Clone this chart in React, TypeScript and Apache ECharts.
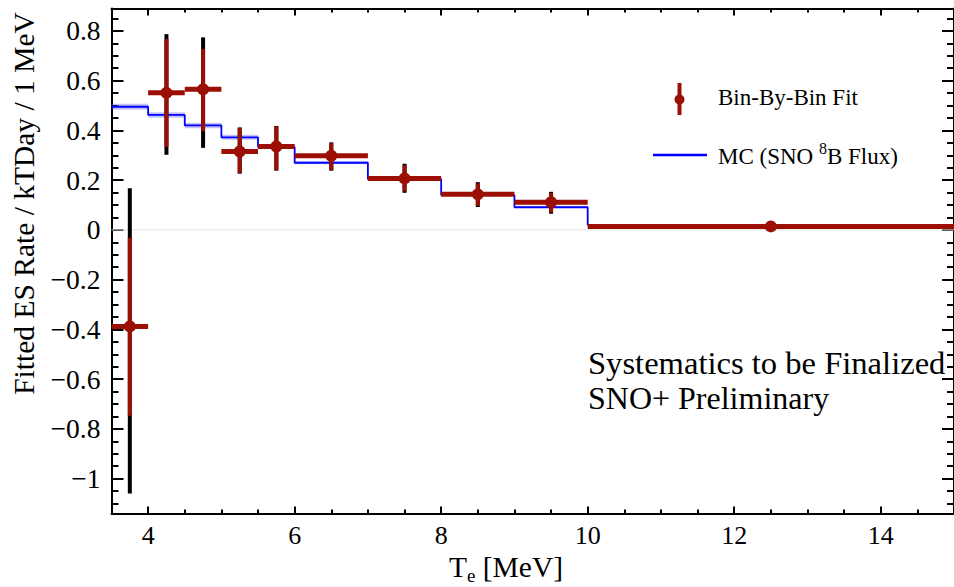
import React, { useEffect, useRef } from 'react';
import * as echarts from 'echarts';

const FONT = 'Liberation Serif';
const RED = '#9c0f05';
const BLUE = '#0000ff';

// Bin edges / centres (MeV)
const binLow = [3.5, 4, 4.5, 5, 5.5, 6, 7, 8, 9, 10];
const binHigh = [4, 4.5, 5, 5.5, 6, 7, 8, 9, 10, 15];
const binCenter = [3.75, 4.25, 4.75, 5.25, 5.75, 6.5, 7.5, 8.5, 9.5, 12.5];

// Bin-by-bin fit (rate / kTDay / 1 MeV)
const fitRate = [-0.388, 0.551, 0.565, 0.315, 0.335, 0.298, 0.207, 0.143, 0.111, 0.014];
const statLow = [-0.747, 0.334, 0.396, 0.229, 0.241, 0.241, 0.155, 0.097, 0.07, 0.008];
const statHigh = [-0.032, 0.767, 0.727, 0.409, 0.416, 0.349, 0.26, 0.187, 0.149, 0.02];
const totalLow = [-1.06, 0.302, 0.33, 0.226, 0.238, 0.238, 0.149, 0.092, 0.065, 0.007];
const totalHigh = [0.167, 0.787, 0.774, 0.412, 0.418, 0.352, 0.266, 0.192, 0.153, 0.021];

// MC (SNO 8B flux) histogram and its band
const mcRate = [0.495, 0.462, 0.42, 0.372, 0.333, 0.27, 0.204, 0.14, 0.091, 0.02];
const mcBand = [0.012, 0.011, 0.011, 0.01, 0.008, 0.006, 0.005, 0.004, 0.003, 0.002];

// Axis ticks
const xMajorTicks = [4, 6, 8, 10, 12, 14];
const yMajorTicks = [-1, -0.8, -0.6, -0.4, -0.2, 0, 0.2, 0.4, 0.6, 0.8];
const X_MIN = 3.5;
const X_MAX = 15;
const Y_MIN = -1.14;
const Y_MAX = 0.89;

function minorTicks(from: number, to: number, step: number, majors: number[]) {
  const out: number[] = [];
  const n = Math.round((to - from) / step);
  for (let i = 0; i <= n; i++) {
    const v = Math.round((from + i * step) * 1000) / 1000;
    if (!majors.some((m) => Math.abs(m - v) < 1e-6)) out.push(v);
  }
  return out;
}
const xMinorTicks = minorTicks(3.5, 15, 0.5, xMajorTicks);
const yMinorTicks = minorTicks(-1.1, 0.85, 0.05, yMajorTicks);

export default function App() {
  const ref = useRef<HTMLDivElement>(null);

  useEffect(() => {
    const chart = echarts.init(ref.current!, null, { renderer: 'svg' });

    const tickStyle = { color: '#000', width: 2 };
    const mkX = (position: string, major: boolean, label: boolean) => ({
      type: 'value',
      min: X_MIN,
      max: X_MAX,
      position,
      splitLine: { show: false },
      axisLine: { show: major, onZero: false, lineStyle: { color: '#000', width: 2 } },
      axisTick: {
        show: true,
        inside: true,
        length: major ? 7 : 4,
        customValues: major ? xMajorTicks : xMinorTicks,
        lineStyle: tickStyle,
      },
      axisLabel: label
        ? {
            show: true,
            customValues: xMajorTicks,
            fontSize: 26,
            fontFamily: FONT,
            color: '#000',
            margin: 9,
            formatter: (v: number) => String(v),
          }
        : { show: false },
    });
    const mkY = (position: string, major: boolean, label: boolean) => ({
      type: 'value',
      min: Y_MIN,
      max: Y_MAX,
      position,
      splitLine: { show: false },
      axisLine: { show: major, onZero: false, lineStyle: { color: '#000', width: 2 } },
      axisTick: {
        show: true,
        inside: true,
        length: major ? 12 : 7,
        customValues: major ? yMajorTicks : yMinorTicks,
        lineStyle: tickStyle,
      },
      axisLabel: label
        ? {
            show: true,
            customValues: yMajorTicks,
            fontSize: 27.5,
            fontFamily: FONT,
            color: '#000',
            margin: 11,
            formatter: (v: number) => {
              const r = Math.round(v * 10) / 10;
              return r < 0 ? '\u2212' + String(-r) : String(r);
            },
          }
        : { show: false },
    });

    const mcStep: number[][] = binLow.map((lo, i) => [lo, mcRate[i]]);
    mcStep.push([binHigh[binHigh.length - 1], mcRate[mcRate.length - 1]]);

    const bandData = binLow.map((lo, i) => [lo, binHigh[i], mcRate[i], mcBand[i]]);
    const fitData = binCenter.map((c, i) => [
      c,
      binLow[i],
      binHigh[i],
      fitRate[i],
      statLow[i],
      statHigh[i],
      totalLow[i],
      totalHigh[i],
    ]);

    const option: any = {
      animation: false,
      backgroundColor: '#fff',
      textStyle: { fontFamily: FONT },
      grid: { left: 111.5, top: 8.5, width: 843.5, height: 505, containLabel: false },
      xAxis: [mkX('bottom', true, true), mkX('bottom', false, false), mkX('top', true, false), mkX('top', false, false)],
      yAxis: [mkY('left', true, true), mkY('left', false, false), mkY('right', true, false), mkY('right', false, false)],
      series: [
        {
          type: 'line',
          name: 'zero',
          data: [
            [X_MIN, 0],
            [X_MAX, 0],
          ],
          symbol: 'none',
          lineStyle: { color: '#e4e4e4', width: 1 },
          silent: true,
          z: 1,
        },
        {
          type: 'custom',
          name: 'MC band',
          data: bandData,
          encode: { x: [0, 1], y: 2 },
          z: 2,
          renderItem: (params: any, api: any) => {
            const p0 = api.coord([api.value(0), api.value(2) + api.value(3)]);
            const p1 = api.coord([api.value(1), api.value(2) - api.value(3)]);
            return {
              type: 'rect',
              shape: { x: p0[0], y: p0[1], width: p1[0] - p0[0], height: p1[1] - p0[1] },
              style: { fill: 'rgba(80,80,255,0.35)' },
            };
          },
        },
        {
          type: 'line',
          name: 'MC (SNO 8B Flux)',
          data: mcStep,
          step: 'end',
          symbol: 'none',
          lineStyle: { color: BLUE, width: 1.8 },
          z: 3,
        },
        {
          type: 'custom',
          name: 'Bin-By-Bin Fit',
          data: fitData,
          encode: { x: 0, y: 3 },
          z: 4,
          renderItem: (params: any, api: any) => {
            const xc = api.value(0);
            const v = api.value(3);
            const c = api.coord([xc, v]);
            const tLo = api.coord([xc, api.value(6)]);
            const tHi = api.coord([xc, api.value(7)]);
            const sLo = api.coord([xc, api.value(4)]);
            const sHi = api.coord([xc, api.value(5)]);
            const hL = api.coord([api.value(1), v]);
            const hR = api.coord([api.value(2), v]);
            return {
              type: 'group',
              children: [
                {
                  type: 'line',
                  shape: { x1: tLo[0], y1: tLo[1], x2: tHi[0], y2: tHi[1] },
                  style: { stroke: '#000', lineWidth: 4 },
                },
                {
                  type: 'line',
                  shape: { x1: sLo[0], y1: sLo[1], x2: sHi[0], y2: sHi[1] },
                  style: { stroke: RED, lineWidth: 4 },
                },
                {
                  type: 'line',
                  shape: { x1: hL[0], y1: hL[1], x2: hR[0], y2: hR[1] },
                  style: { stroke: RED, lineWidth: 5 },
                },
                {
                  type: 'circle',
                  shape: { cx: c[0], cy: c[1], r: 6 },
                  style: { fill: RED },
                },
              ],
            };
          },
        },
      ],
      graphic: [
        // legend
        {
          type: 'line',
          shape: { x1: 679.5, y1: 83, x2: 679.5, y2: 115 },
          style: { stroke: RED, lineWidth: 4 },
        },
        { type: 'circle', shape: { cx: 679.5, cy: 99.5, r: 5 }, style: { fill: RED } },
        {
          type: 'text',
          x: 718,
          y: 97.5,
          style: {
            text: 'Bin-By-Bin Fit',
            fontSize: 23,
            fontFamily: FONT,
            fill: '#000',
            align: 'left',
            verticalAlign: 'middle',
          },
        },
        {
          type: 'line',
          shape: { x1: 653, y1: 155, x2: 707, y2: 155 },
          style: { stroke: BLUE, lineWidth: 2.5 },
        },
        {
          type: 'text',
          x: 718,
          y: 156,
          style: {
            text: '{a|MC (SNO }{s|8}{a|B Flux)}',
            fontFamily: FONT,
            fill: '#000',
            align: 'left',
            verticalAlign: 'middle',
            rich: {
              a: { fontSize: 23, lineHeight: 32, fontFamily: FONT, fill: '#000' },
              s: { fontSize: 16, lineHeight: 16, verticalAlign: 'top', fontFamily: FONT, fill: '#000' },
            },
          },
        },
        // annotations
        {
          type: 'text',
          x: 588,
          y: 362.5,
          style: {
            text: 'Systematics to be Finalized',
            fontSize: 32.6,
            fontFamily: FONT,
            fill: '#000',
            align: 'left',
            verticalAlign: 'middle',
          },
        },
        {
          type: 'text',
          x: 588,
          y: 398,
          style: {
            text: 'SNO+ Preliminary',
            fontSize: 32,
            fontFamily: FONT,
            fill: '#000',
            align: 'left',
            verticalAlign: 'middle',
          },
        },
        // axis titles
        {
          type: 'text',
          x: 23.5,
          y: 203.5,
          rotation: Math.PI / 2,
          style: {
            text: 'Fitted ES Rate / kTDay / 1 MeV',
            fontSize: 29.5,
            fontFamily: FONT,
            fill: '#000',
            align: 'center',
            verticalAlign: 'middle',
          },
        },
        {
          type: 'text',
          x: 506,
          y: 566.5,
          style: {
            text: '{t|T}{s|e}{t| [MeV]}',
            fontFamily: FONT,
            fill: '#000',
            align: 'center',
            verticalAlign: 'middle',
            rich: {
              t: { fontSize: 29.5, lineHeight: 36, fontFamily: FONT, fill: '#000' },
              s: { fontSize: 19, lineHeight: 19, verticalAlign: 'bottom', fontFamily: FONT, fill: '#000' },
            },
          },
        },
      ],
    };

    chart.setOption(option);
    return () => chart.dispose();
  }, []);

  return (
    <div
      ref={ref}
      style={{ position: 'fixed', left: 0, top: 0, width: 954, height: 587, background: '#fff' }}
    />
  );
}
